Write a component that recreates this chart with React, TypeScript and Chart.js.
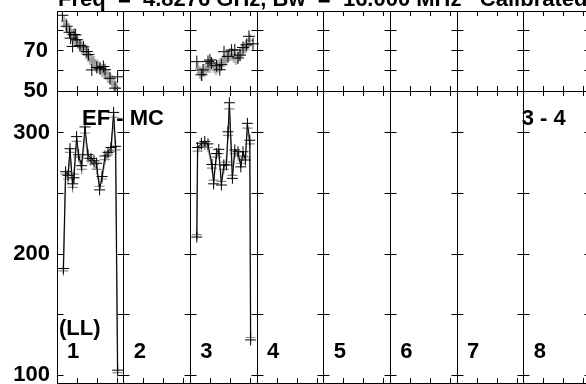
import React, { useEffect, useRef } from 'react';
import { Chart, registerables } from 'chart.js';

Chart.register(...registerables);

const FONT = '"Liberation Sans", Arial, Helvetica, sans-serif';
const PANEL_WIDTH = 10 / 3;
const PANEL_LABELS = ['1', '2', '3', '4', '5', '6', '7', '8'];
const TITLE_TEXT = 'Freq  =  4.8276 GHz, Bw  =  16.000 MHz   Calibrated';
const BASELINE_LABEL = 'EF - MC';
const CHANNEL_LABEL = '3 - 4';
const STOKES_LABEL = '(LL)';

const TOP_TICKS = [50, 60, 70, 80];
const TOP_TICK_LABELS = [50, 70];
const TOP_MIN = 50;
const TOP_MAX = 89.5;
const BOT_TICKS = [100, 150, 200, 250, 300];
const BOT_TICK_LABELS = [100, 200, 300];
const BOT_MIN = 93.4;
const BOT_MAX = 334.7;

// Panel 1 – upper plot
const P1_TOP_TIME = [0.27, 0.48, 0.63, 0.68, 0.78, 0.85, 0.93, 1.0, 1.15, 1.32, 1.49, 1.57, 1.74, 1.99, 2.15, 2.32, 2.4, 2.65, 2.9, 3.03];
const P1_TOP_VALUE = [87.4, 82.0, 79.0, 76.1, 72.0, 77.9, 77.7, 75.3, 72.5, 71.8, 69.5, 68.0, 60.4, 61.6, 61.2, 62.1, 60.5, 56.3, 51.4, 57.0];
const P1_TOP_GRAY_TIME = [0.35, 0.45, 0.55, 0.65, 0.75, 0.85, 0.95, 1.05, 1.15, 1.25, 1.35, 1.45, 1.55, 1.65, 1.75, 1.85, 1.95, 2.05, 2.15, 2.25, 2.35, 2.45, 2.55, 2.65, 2.75, 2.85, 2.95];
const P1_TOP_GRAY = [84.5, 83, 80.5, 79, 77.5, 76, 75, 74, 72.5, 71, 70.5, 69, 67.5, 66, 65, 64, 62.5, 62, 61, 60, 59, 58.5, 57, 56, 54.5, 53, 51.5];

// Panel 1 – lower plot
const P1_BOT_TIME = [0.32, 0.43, 0.55, 0.65, 0.78, 0.85, 0.98, 1.08, 1.23, 1.4, 1.55, 1.7, 1.85, 1.98, 2.13, 2.25, 2.4, 2.55, 2.7, 2.83, 2.93, 3.03];
const P1_BOT_VALUE = [188, 268, 265, 287, 258, 263, 297, 282, 273, 305, 282, 279, 277, 275, 253, 264, 281, 284, 288, 317, 289, 104];
const P1_BOT_GRAY = [186, 266, 262, 284, 255, 266, 293, 280, 270, 300, 279, 277, 274, 270, 256, 262, 278, 282, 285, 313, 286, 102];

// Panel 3 – upper plot
const P3_TOP_TIME = [6.99, 7.22, 7.3, 7.55, 7.65, 7.72, 7.98, 8.14, 8.22, 8.35, 8.55, 8.73, 8.89, 9.05, 9.15, 9.3, 9.47, 9.6, 9.8];
const P3_TOP_VALUE = [64.5, 58, 60.4, 64.6, 65.3, 63.8, 62.5, 60.5, 63, 69.4, 67.1, 70.2, 70.3, 66.3, 67.7, 71.5, 72.8, 77, 73.3];
const P3_TOP_GRAY_TIME = [7.05, 7.15, 7.25, 7.35, 7.45, 7.55, 7.65, 7.75, 7.85, 7.95, 8.05, 8.15, 8.25, 8.35, 8.45, 8.55, 8.65, 8.75, 8.85, 8.95, 9.05, 9.15, 9.25, 9.35, 9.45, 9.55, 9.65];
const P3_TOP_GRAY = [61, 59, 58, 60, 61, 62, 62, 63, 62, 61, 62, 63, 64, 65, 66, 67, 68, 68, 67, 66, 67, 68, 70, 71, 72, 73, 75];

// Panel 3 – lower plot
const P3_BOT_TIME = [6.99, 7.03, 7.22, 7.39, 7.55, 7.75, 7.83, 7.97, 8.09, 8.22, 8.34, 8.47, 8.55, 8.62, 8.77, 8.89, 9.05, 9.19, 9.3, 9.42, 9.52, 9.64, 9.68];
const P3_BOT_VALUE = [214, 288, 291.5, 293, 291, 274, 258, 283, 286.5, 257, 273.6, 273.6, 301, 325, 262.5, 286, 284.5, 272, 284.5, 277.7, 308, 294, 129];
const P3_BOT_GRAY = [216, 285, 289, 290, 288, 271, 261, 280, 283, 260, 270, 276, 298, 320, 265, 283, 281, 275, 281, 280, 304, 291, 131];

const GRAY = '#8c8c8c';

function makeGrayMarker() {
  const c = document.createElement('canvas');
  c.width = 7;
  c.height = 13;
  const g = c.getContext('2d')!;
  g.strokeStyle = GRAY;
  g.lineWidth = 1.3;
  g.beginPath();
  g.moveTo(3.5, 0);
  g.lineTo(3.5, 13);
  g.moveTo(0, 6.5);
  g.lineTo(7, 6.5);
  g.stroke();
  return c;
}

const xy = (t: number[], v: number[]) => t.map((x, i) => ({ x, y: v[i] }));

const framePlugin = {
  id: 'frame',
  beforeDatasetsDraw(chart: any) {
    const ctx = chart.ctx;
    const xs = chart.scales.x;
    const yt = chart.scales.yTop;
    const yb = chart.scales.yBot;
    const top = yt.top;
    const mid = yt.bottom;
    const bot = yb.bottom;
    const snap = (v: number) => Math.floor(v) + 0.5;
    const seg = (x1: number, y1: number, x2: number, y2: number) => {
      ctx.moveTo(x1, y1);
      ctx.lineTo(x2, y2);
    };
    const xl = xs.getPixelForValue(0);
    const xr = xs.getPixelForValue(PANEL_LABELS.length * PANEL_WIDTH);
    ctx.save();
    ctx.strokeStyle = '#000';
    ctx.lineWidth = 1;
    ctx.beginPath();
    seg(xl, snap(top), xr, snap(top));
    seg(xl, snap(mid), xr, snap(mid));
    seg(xl, snap(bot), xr, snap(bot));
    for (let k = 0; k <= PANEL_LABELS.length; k++) {
      const x = snap(xs.getPixelForValue(k * PANEL_WIDTH));
      seg(x, top, x, bot);
      const tl = k === 0 ? 0 : 6;
      TOP_TICKS.forEach((v) => {
        const y = snap(yt.getPixelForValue(v));
        seg(x - tl, y, x + 6, y);
      });
      BOT_TICKS.forEach((v) => {
        const y = snap(yb.getPixelForValue(v));
        seg(x - tl, y, x + 6, y);
      });
      if (k < PANEL_LABELS.length) {
        for (let j = 1; j <= 3; j++) {
          const tx = snap(xs.getPixelForValue(k * PANEL_WIDTH + j));
          seg(tx, top, tx, top + 5);
          seg(tx, mid, tx, mid - 5);
          seg(tx, mid, tx, mid + 5);
          seg(tx, bot, tx, bot - 5);
        }
      }
    }
    ctx.stroke();
    ctx.restore();
  },
  afterDatasetsDraw(chart: any) {
    const ctx = chart.ctx;
    const xs = chart.scales.x;
    ctx.save();
    ctx.fillStyle = '#000';
    ctx.font = `bold 22px ${FONT}`;
    ctx.textAlign = 'left';
    ctx.textBaseline = 'alphabetic';
    ctx.fillText(TITLE_TEXT, 58, 6);
    const x0 = xs.getPixelForValue(0);
    ctx.fillText(BASELINE_LABEL, x0 + 25, 125);
    ctx.fillText(CHANNEL_LABEL, xs.getPixelForValue(7 * PANEL_WIDTH) - 2, 125);
    ctx.fillText(STOKES_LABEL, x0 + 2, 335);
    PANEL_LABELS.forEach((lab, k) => {
      ctx.fillText(lab, xs.getPixelForValue(k * PANEL_WIDTH) + 10, 358);
    });
    ctx.restore();
  },
};

const noPad = (s: any) => {
  s.width = 57;
  s.paddingTop = 0;
  s.paddingBottom = 0;
  s.paddingLeft = 0;
  s.paddingRight = 0;
};

export default function App() {
  const ref = useRef<HTMLCanvasElement>(null);
  useEffect(() => {
    const canvas = ref.current!;
    const marker = makeGrayMarker();
    const blackCross = (data: any[], yAxisID: string) => ({
      data, yAxisID, xAxisID: 'x', showLine: false, pointStyle: 'cross', pointRadius: 6,
      borderColor: '#000', pointBorderColor: '#000', pointBorderWidth: 1, borderWidth: 1,
    });
    const blackLine = (data: any[]) => ({
      data, yAxisID: 'yBot', xAxisID: 'x', showLine: true, tension: 0, fill: false, pointStyle: 'cross',
      pointRadius: 5.5, borderColor: '#000', pointBorderColor: '#000', pointBorderWidth: 1, borderWidth: 1,
    });
    const grayMarks = (data: any[]) => ({
      data, yAxisID: 'yTop', xAxisID: 'x', showLine: false, pointStyle: marker, pointRadius: 5, borderColor: GRAY,
    });
    const grayLine = (data: any[]) => ({
      data, yAxisID: 'yBot', xAxisID: 'x', showLine: true, tension: 0, fill: false, pointStyle: 'cross',
      pointRadius: 5, borderColor: GRAY, pointBorderColor: GRAY, pointBorderWidth: 1.2, borderWidth: 1.5,
    });
    const tickFont = { family: FONT, size: 22, weight: 'bold' as const };
    const chart = new Chart(canvas, {
      type: 'line',
      data: {
        datasets: [
          blackCross(xy(P1_TOP_TIME, P1_TOP_VALUE), 'yTop'),
          blackCross(xy(P3_TOP_TIME, P3_TOP_VALUE), 'yTop'),
          blackLine(xy(P1_BOT_TIME, P1_BOT_VALUE)),
          blackLine(xy(P3_BOT_TIME, P3_BOT_VALUE)),
          grayMarks(xy(P1_TOP_GRAY_TIME, P1_TOP_GRAY)),
          grayMarks(xy(P3_TOP_GRAY_TIME, P3_TOP_GRAY)),
          grayLine(xy(P1_BOT_TIME, P1_BOT_GRAY)),
          grayLine(xy(P3_BOT_TIME, P3_BOT_GRAY)),
        ] as any,
      },
      options: {
        responsive: false,
        animation: false,
        devicePixelRatio: 1,
        events: [],
        layout: { autoPadding: false, padding: { top: 11, bottom: 1, left: 0, right: 600 - (57 + 8 * 20 * PANEL_WIDTH) } },
        plugins: { legend: { display: false }, tooltip: { enabled: false } },
        scales: {
          x: { type: 'linear', min: 0, max: PANEL_LABELS.length * PANEL_WIDTH, display: false },
          yBot: {
            type: 'linear', position: 'left', stack: 'v', stackWeight: 292, min: BOT_MIN, max: BOT_MAX,
            grid: { display: false, drawTicks: false }, border: { display: false },
            afterBuildTicks: (s: any) => { s.ticks = BOT_TICKS.map((v) => ({ value: v })); },
            afterFit: noPad,
            ticks: {
              autoSkip: false, padding: 7, color: '#000', font: tickFont,
              callback: (v: any) => (BOT_TICK_LABELS.includes(Number(v)) ? String(v) : ''),
            },
          },
          yTop: {
            type: 'linear', position: 'left', stack: 'v', stackWeight: 80, min: TOP_MIN, max: TOP_MAX,
            grid: { display: false, drawTicks: false }, border: { display: false },
            afterBuildTicks: (s: any) => { s.ticks = TOP_TICKS.map((v) => ({ value: v })); },
            afterFit: noPad,
            ticks: {
              autoSkip: false, padding: 9, color: '#000', font: tickFont,
              callback: (v: any) => (TOP_TICK_LABELS.includes(Number(v)) ? String(v) : ''),
            },
          },
        },
      } as any,
      plugins: [framePlugin],
    });
    return () => chart.destroy();
  }, []);
  return (
    <div style={{ position: 'fixed', left: 0, top: 0, width: 586, height: 384, overflow: 'hidden', background: '#fff' }}>
      <canvas ref={ref} width={600} height={384} style={{ display: 'block', width: 600, height: 384 }} />
    </div>
  );
}
